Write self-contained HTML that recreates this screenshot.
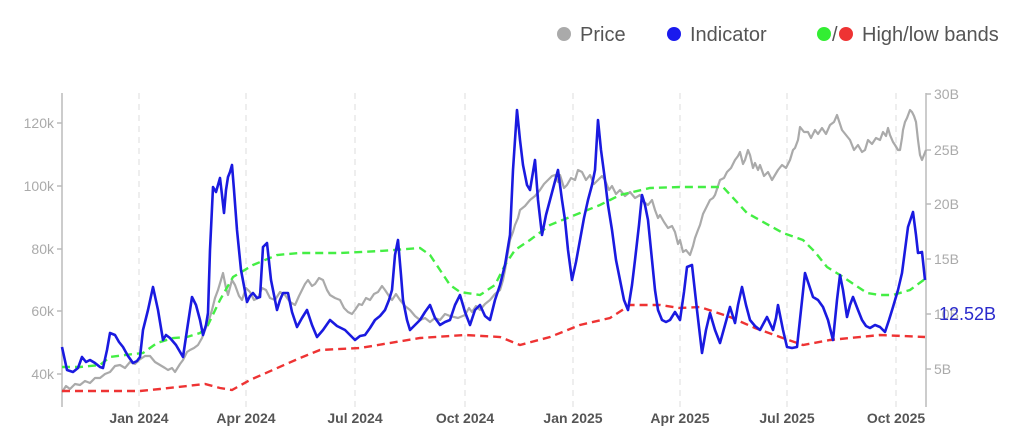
<!DOCTYPE html>
<html><head><meta charset="utf-8"><style>
body{margin:0;background:#fff;}
svg{display:block;font-family:"Liberation Sans","DejaVu Sans",sans-serif;}
</style></head><body>
<svg width="1024" height="440" viewBox="0 0 1024 440" xmlns="http://www.w3.org/2000/svg">
<rect width="1024" height="440" fill="#fff"/>
<!-- legend -->
<circle cx="564" cy="34" r="7" fill="#aaaaaa"/>
<text x="580" y="41" font-size="20" fill="#555">Price</text>
<circle cx="674" cy="34" r="7" fill="#1a1aee"/>
<text x="690" y="41" font-size="20" fill="#555">Indicator</text>
<circle cx="824" cy="34" r="7" fill="#33ee33"/>
<text x="832" y="41" font-size="20" fill="#555">/</text>
<circle cx="846" cy="34" r="7" fill="#ee3333"/>
<text x="862" y="41" font-size="20" fill="#555">High/low bands</text>
<!-- grid -->
<g stroke="#ddd" stroke-width="1" stroke-dasharray="6,5">
<line x1="139" y1="93" x2="139" y2="407"/><line x1="246" y1="93" x2="246" y2="407"/>
<line x1="355" y1="93" x2="355" y2="407"/><line x1="465" y1="93" x2="465" y2="407"/>
<line x1="573" y1="93" x2="573" y2="407"/><line x1="680" y1="93" x2="680" y2="407"/>
<line x1="787" y1="93" x2="787" y2="407"/><line x1="896" y1="93" x2="896" y2="407"/>
</g>
<!-- axes -->
<g stroke="#bbb" stroke-width="1.5">
<line x1="62" y1="93" x2="62" y2="407"/><line x1="926" y1="93" x2="926" y2="407"/>
<line x1="57" y1="123" x2="62" y2="123"/><line x1="57" y1="186" x2="62" y2="186"/><line x1="57" y1="249" x2="62" y2="249"/><line x1="57" y1="311" x2="62" y2="311"/><line x1="57" y1="374" x2="62" y2="374"/>
<line x1="926" y1="94" x2="931" y2="94"/><line x1="926" y1="150" x2="931" y2="150"/><line x1="926" y1="204" x2="931" y2="204"/><line x1="926" y1="259" x2="931" y2="259"/><line x1="926" y1="314" x2="931" y2="314"/><line x1="926" y1="369" x2="931" y2="369"/>
</g>
<g font-size="14" fill="#aaa" text-anchor="end">
<text x="54" y="128">120k</text><text x="54" y="191">100k</text><text x="54" y="254">80k</text><text x="54" y="316">60k</text><text x="54" y="379">40k</text>
</g>
<g font-size="14" fill="#aaa">
<text x="934" y="99">30B</text><text x="934" y="155">25B</text><text x="934" y="209">20B</text><text x="934" y="264">15B</text><text x="934" y="319">10B</text><text x="934" y="374">5B</text>
</g>
<g font-size="14" fill="#555" text-anchor="middle" font-weight="bold">
<text x="139" y="423">Jan 2024</text><text x="246" y="423">Apr 2024</text><text x="355" y="423">Jul 2024</text><text x="465" y="423">Oct 2024</text><text x="573" y="423">Jan 2025</text><text x="680" y="423">Apr 2025</text><text x="787" y="423">Jul 2025</text><text x="896" y="423">Oct 2025</text>
</g>
<!-- price -->
<polyline fill="none" stroke="#aaa" stroke-width="2.2" stroke-linejoin="round" points="62,392 66,386 70,389 75,384 80,385 85,381 90,383 95,378 100,378 105,374 110,372 115,366 120,365 125,368 130,362 135,364 139,360 145,356 150,356 155,362 160,365 165,368 168,370 172,368 175,372 180,364 183,360 187,352 190,350 194,348 198,345 202,338 205,330 209,320 212,310 215,298 218,290 221,280 223,273 226,288 228,295 232,280 235,285 239,296 242,300 246,288 250,292 254,300 258,298 262,288 266,290 270,298 275,300 280,292 285,295 290,302 295,305 299,296 302,290 305,284 308,280 312,286 315,284 319,278 323,280 327,290 330,295 335,298 340,300 344,308 348,312 352,314 355,310 359,304 362,305 366,298 370,300 374,294 378,292 382,286 385,290 389,296 392,300 396,294 400,300 405,306 410,310 415,316 420,320 425,318 430,322 435,318 440,320 445,314 450,316 458,318 465,315 469,308 472,312 476,306 480,310 485,304 490,300 495,294 500,290 503,280 505,270 508,252 510,240 513,232 515,225 518,218 520,210 525,206 530,200 535,196 540,190 544,184 548,180 552,176 555,175 558,182 560,175 564,188 567,185 571,178 575,180 578,170 582,172 586,180 590,175 594,184 598,180 602,176 605,180 609,190 612,186 616,194 620,190 625,196 630,192 635,198 640,195 644,202 648,205 652,200 655,210 658,218 660,215 664,222 668,228 672,226 675,232 678,244 680,240 683,252 686,250 690,255 693,246 695,238 698,230 700,225 703,214 705,210 708,204 710,200 713,198 715,195 718,186 720,180 724,178 727,172 731,168 735,160 738,156 740,152 743,164 745,160 748,150 750,155 753,168 755,163 758,170 760,165 764,176 768,172 772,180 775,175 778,170 782,165 786,168 790,160 793,150 795,148 798,140 800,127 804,132 808,132 811,138 815,130 818,134 822,128 826,134 830,125 834,122 837,115 840,124 842,130 846,135 850,140 854,150 858,145 862,152 865,150 868,140 872,144 876,138 880,140 883,132 886,136 888,128 890,135 893,142 895,145 898,150 900,150 902,138 903,130 905,122 907,118 910,110 912,112 914,116 916,122 918,140 920,155 922,160 924,155 926,150"/>
<!-- green band -->
<polyline fill="none" stroke="#44ee44" stroke-width="2.4" stroke-dasharray="8,5" points="62,367 80,367 100,365 110,357 125,355 143,353 157,343 173,338 187,337 200,333 207,327 220,300 233,277 253,265 277,255 300,253 340,253 380,251 420,248 430,255 440,270 450,285 460,292 480,295 495,285 505,265 515,250 530,240 550,225 575,215 600,205 620,195 650,188 680,187 723,187 747,213 783,233 803,240 815,252 827,267 840,275 855,285 867,293 880,295 893,295 910,290 925,279"/>
<!-- red band -->
<polyline fill="none" stroke="#ee3333" stroke-width="2.4" stroke-dasharray="8,5" points="62,391 100,391 140,391 160,389 205,384 220,388 232,390 250,380 275,369 300,358 320,350 360,348 420,338 465,335 500,337 520,345 550,337 580,325 610,318 630,305 660,305 680,308 700,307 730,317 755,328 780,337 803,345 830,340 880,335 925,337"/>
<!-- indicator -->
<polyline fill="none" stroke="#1a1ae0" stroke-width="2.6" stroke-linejoin="round" points="62,347 67,370 73,372 78,368 82,357 86,362 90,360 95,363 100,367 103,368 107,350 110,333 115,335 119,342 123,347 128,356 133,363 137,361 140,357 143,330 148,310 153,287 158,310 163,340 166,335 170,338 176,345 183,357 187,330 192,297 196,305 200,320 203,335 206,325 208,313 210,250 213,187 216,192 220,178 222,195 224,213 226,190 228,177 230,172 232,165 234,190 237,230 241,270 247,302 250,296 253,293 257,298 260,297 263,247 267,243 271,280 277,310 280,300 283,293 288,293 292,312 297,327 302,318 307,310 312,325 317,337 323,330 330,320 337,326 345,330 350,335 355,340 360,336 365,335 370,328 375,320 380,316 385,310 389,300 392,290 395,255 398,240 401,275 403,300 407,320 410,330 415,325 420,320 425,312 430,305 435,318 440,325 445,322 450,320 455,305 460,295 465,312 470,325 475,310 480,305 485,316 490,320 495,300 500,285 505,265 510,235 513,170 517,110 520,140 523,165 527,185 530,190 533,172 535,160 538,200 542,235 546,215 550,200 554,185 558,170 562,200 565,220 568,250 572,280 576,262 580,240 584,218 588,200 592,185 595,170 598,120 601,150 605,180 608,205 612,230 616,260 620,280 624,300 628,310 632,285 635,260 639,225 642,195 645,205 648,220 652,260 655,290 658,310 662,320 666,322 670,320 675,312 680,320 684,292 687,267 692,265 697,310 702,353 706,330 710,313 715,330 720,343 725,325 730,307 735,323 738,305 742,287 746,305 750,320 755,326 760,330 767,317 773,330 776,318 778,305 783,330 787,347 792,348 797,347 801,310 805,273 809,285 813,297 818,300 823,307 828,320 833,340 837,300 840,275 843,290 847,317 850,305 853,297 858,310 862,320 866,326 870,328 875,325 880,327 885,332 889,320 893,307 898,290 902,273 905,250 908,227 911,218 913,212 916,235 918,253 922,252 925,280"/>
<text x="939" y="320" font-size="18" fill="#2a2acc">12.52B</text>
</svg>
</body></html>
